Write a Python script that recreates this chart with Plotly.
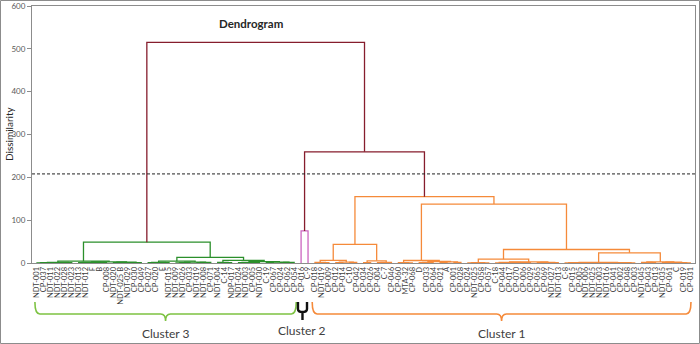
import plotly.graph_objects as go

# ---------------- data ----------------
cluster3_labels = ["NDT-001", "CP-037", "NDT-011", "NDT-022", "NDT-028", "NDT-023", "NDT-013", "NDT-012",
                   "F", "B", "CP-008", "NDT-020", "NDT-025 B", "NDT-029", "CP-030", "CP-049", "CP-027",
                   "CP-020", "E", "NDT-015", "NDT-009", "NDT-026", "CP-033", "NDT-019", "NDT-008", "CP-071",
                   "NDT-004", "C-14", "NDP-017", "NDT-024", "NDT-003", "CP-005", "NDT-030", "C-19", "CP-067",
                   "CP-024", "CP-062", "CP-054"]
cluster2_labels = ["CP-016", "C-9"]
cluster1_labels = ["CP-018", "NDT-019", "CP-009", "CP-012", "CP-014", "C-10", "CP-042", "CP-034", "CP-026",
                   "CP-004", "C-7", "CP-046", "CP-060", "MTA-32", "CP-068", "D", "CP-033", "CP-064", "CP-021",
                   "A", "CP-001", "CP-028", "CP-024", "NDT-025", "CP-058", "CP-057", "C-18", "CP-044", "CP-017",
                   "CP-070", "CP-006", "CP-029", "CP-065", "CP-069", "NDT-027", "NDT-013", "C-8", "CP-015",
                   "CP-005", "NDT-006", "NDT-025", "NDT-003", "NDT-016", "CP-041", "CP-002", "CP-048", "CP-003",
                   "NDT-045", "CP-043", "CP-013", "NDT-035", "CP-061", "C", "CP-019", "CP-031"]
leaf_labels = cluster3_labels + cluster2_labels + cluster1_labels

# merge trees: [height, left, right]; integers are leaf positions in leaf_labels
cluster3_tree = [48.7,
                 [4.2,
                  [1.5, [1.0, [0.5, 0, 1], [0.7, 2, 3]], [0.9, 4, 5]],
                  [2.5, [1.2, [0.6, 6, 7], [0.9, [0.4, 8, 9], 10]],
                   [1.8, [0.7, 11, 12], [1.1, [0.5, 13, 14], 15]]]],
                 [12.9,
                  [4.2,
                   [1.2, [0.6, 16, 17], [0.8, 18, 19]],
                   [2.0, [1.0, [0.5, 20, 21], 22], [1.5, [0.8, 23, 24], 25]]],
                  [5.9,
                   [1.5, 26, [0.8, 27, 28]],
                   [3.0, [1.5, [0.7, 29, 30], [1.0, 31, 32]],
                    [2.2, [1.1, 33, 34], [1.4, [0.6, 35, 36], 37]]]]]]
cluster2_tree = [75.0, 38, 39]
cluster1_tree = [154.8,
                 [43.3,
                  [5.9, [1.5, 40, [0.7, 41, 42]], [2.0, [1.0, 43, 44], [1.3, 45, 46]]],
                  [5.0, [0.9, 47, 48], [1.5, [0.6, 49, 50], 51]]],
                 [137.6,
                  [5.8, [1.0, 52, [0.5, 53, 54]],
                   [3.5, [1.5, [0.6, 55, 56], 57], [2.5, [1.0, 58, 59], [1.2, 60, 61]]]],
                  [31.5,
                   [8.9,
                    [0.8, [0.4, 62, 63], [0.5, 64, 65]],
                    [2.6, [1.2, [0.5, 66, 67], [0.8, [0.3, 68, 69], [0.6, 70, 71]]],
                     [1.4, [0.7, 72, 73], [0.9, 74, 75]]]],
                   [23.7,
                    [1.3, [0.8, [0.4, 76, 77], [0.6, [0.3, 78, 79], [0.5, 80, 81]]],
                     [1.0, [0.5, 82, 83], [0.7, 84, [0.3, 85, 86]]]],
                    [2.6, [1.2, 87, [0.6, 88, 89]], [1.8, [0.9, 90, 91], [1.1, 92, [0.5, 93, 94]]]]]]]]
upper_height = 259.5   # cluster 2 + cluster 1
root_height = 515.0    # all
cut_height = 208.0     # truncation line
y_ticks = [0, 100, 200, 300, 400, 500, 600]
cluster_names = ["Cluster 3", "Cluster 2", "Cluster 1"]

# ---------------- styles ----------------
GREEN = "#2b8f2b"
PINK = "#cc66c0"
ORANGE = "#f58a3a"
MAROON = "#861d2d"
GRAY = "#8c8c8c"
TXT = "#404040"
FONT = "Lato"

segs = {}


def add_link(color, xl, hl, xr, hr, h):
    xs, ys = segs.setdefault(color, ([], []))
    xs += [xl, xl, xr, xr, None]
    ys += [hl, h, h, hr, None]
    return (xl + xr) / 2.0, h


def draw(node, color):
    if isinstance(node, int):
        return float(node), 0.0
    h, left, right = node
    xl, hl = draw(left, color)
    xr, hr = draw(right, color)
    return add_link(color, xl, hl, xr, hr, h)


x3, h3 = draw(cluster3_tree, GREEN)
x2, h2 = draw(cluster2_tree, PINK)
x1, h1 = draw(cluster1_tree, ORANGE)
xu, hu = add_link(MAROON, x2, h2, x1, h1, upper_height)
add_link(MAROON, x3, h3, xu, hu, root_height)

fig = go.Figure()
for color in [GREEN, PINK, ORANGE, MAROON]:
    xs, ys = segs[color]
    fig.add_trace(go.Scatter(x=xs, y=ys, mode="lines", line=dict(color=color, width=1.3),
                             hoverinfo="skip", showlegend=False, cliponaxis=False))

n = len(leaf_labels)
W, H = 700, 344
ml, mr, mt, mb = 32, 5, 6, 81
pw, ph = W - ml - mr, H - mt - mb


def py(p):  # pixel row -> paper y
    return (H - mb - p) / ph


def px(p):  # pixel col -> paper x
    return (p - ml) / pw


fig.update_layout(
    width=W, height=H, margin=dict(l=ml, r=mr, t=mt, b=mb, autoexpand=False),
    paper_bgcolor="white", plot_bgcolor="white",
    font=dict(family=FONT, color=TXT),
    xaxis=dict(range=[-0.72, n - 1 + 0.68], tickmode="array", tickvals=list(range(n)),
               ticktext=leaf_labels, tickangle=-90, tickfont=dict(size=7.5, color=TXT),
               showgrid=False, zeroline=False, showline=True, mirror=True, linecolor=GRAY,
               linewidth=1, ticks="", automargin=False, fixedrange=True),
    yaxis=dict(range=[0, 600], tickmode="array", tickvals=y_ticks, showgrid=False, zeroline=False,
               showline=True, mirror=True, linecolor=GRAY, linewidth=1, ticks="outside", ticklen=4,
               tickcolor=GRAY, tickfont=dict(size=8, color="#595959"), automargin=False,
               fixedrange=True),
)

# truncation line
fig.add_shape(type="line", xref="paper", yref="y", x0=0, x1=1, y0=cut_height, y1=cut_height,
              line=dict(color="#222222", width=1, dash="3px,2px"))

# title + axis title
fig.add_annotation(text="<b>Dendrogram</b>", xref="paper", yref="paper", x=px(251), y=py(24),
                   xanchor="center", yanchor="middle", showarrow=False,
                   font=dict(size=11.5, color="#262626", family=FONT))
fig.add_annotation(text="Dissimilarity", xref="paper", yref="paper", x=px(9), y=py(134),
                   xanchor="center", yanchor="middle", textangle=-90, showarrow=False,
                   font=dict(size=10, color="#262626", family=FONT))

# cluster braces
yt, ym, yb = py(302), py(314), py(321)
d = 0.7


def brace(a, b, color, width=1.6):
    c = (a + b) / 2.0
    path = (f"M {a},{yt} Q {a},{ym} {a + d},{ym} L {c - d},{ym} Q {c},{ym} {c},{yb} "
            f"Q {c},{ym} {c + d},{ym} L {b - d},{ym} Q {b},{ym} {b},{yt}")
    fig.add_shape(type="path", xref="x", yref="paper", path=path, line=dict(color=color, width=width))
    return c


n3, n2 = len(cluster3_labels), len(cluster2_labels)
c3 = brace(-0.3, n3 - 1 + 0.3, "#7dc242")
c1 = brace(n3 + n2 - 0.4, n - 1 + 0.1, ORANGE)
# cluster 2 "Y" bracket
a, b = n3 - 0.45, n3 + n2 - 1 - 0.15
c2 = (a + b) / 2.0
ymid2 = py(312)
fig.add_shape(type="path", xref="x", yref="paper",
              path=(f"M {a},{yt} L {a},{py(309)} Q {a},{ymid2} {c2},{ymid2} "
                    f"Q {b},{ymid2} {b},{py(309)} L {b},{yt} M {c2},{ymid2} L {c2},{py(320)}"),
              line=dict(color="#111111", width=2.4))

for name, cx, yy in zip(cluster_names, [c3, c2, c1], [333, 330, 333]):
    fig.add_annotation(text=name, xref="x", yref="paper", x=cx, y=py(yy), xanchor="center",
                       yanchor="middle", showarrow=False, font=dict(size=12, color=TXT, family=FONT))

# outer frame
fig.add_shape(type="rect", xref="paper", yref="paper", x0=px(0.5), x1=px(W - 0.5),
              y0=py(H - 0.5), y1=py(0.5), line=dict(color=GRAY, width=1))

fig.write_html("out.html", config={"displayModeBar": False, "staticPlot": True},
               post_script="document.body.style.margin='0';document.body.style.overflow='hidden';")
